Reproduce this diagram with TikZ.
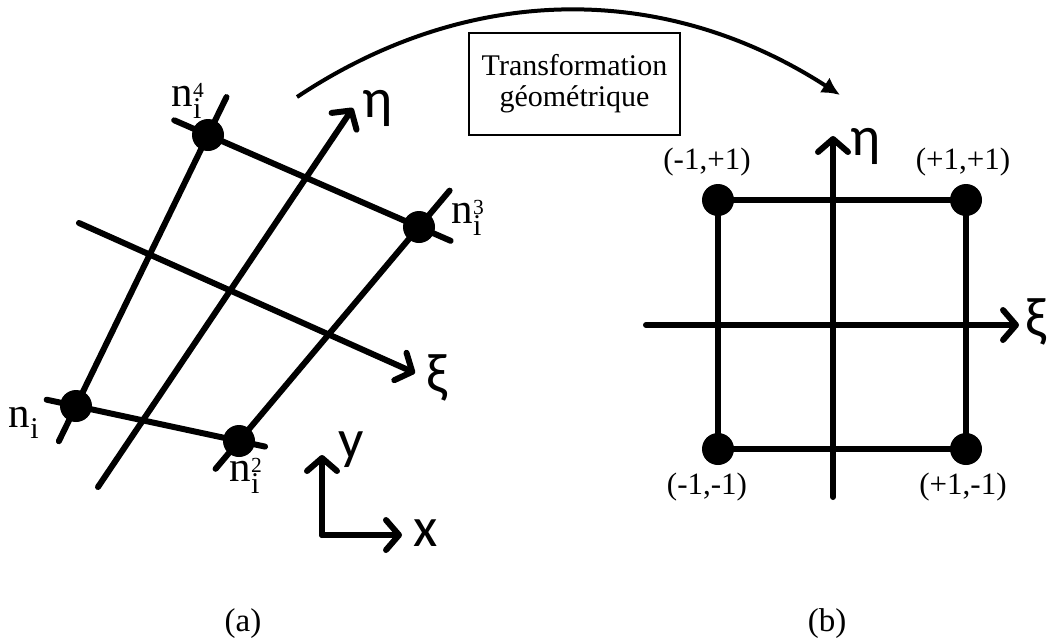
\documentclass[tikz,border=0pt]{standalone}
\usepackage{fontspec}
\setmainfont{Liberation Serif}
\newfontfamily\axisfont{Carlito}
\usetikzlibrary{arrows.meta,calc}
\newcommand{\nlab}[1]{$\mathrm{n}_{\mathrm{i}}^{\scriptscriptstyle\mathrm{#1}}$}
\begin{document}
\begin{tikzpicture}[x=1pt,y=-1pt,
  gridline/.style={line width=6pt, line cap=round},
  axisline/.style={gridline, -{Straight Barb[length=13pt,width=30pt,round]}},
  dot/.style={circle, fill=black, inner sep=0pt, minimum size=32pt},
  lbl/.style={font=\fontsize{31}{32}\selectfont, inner sep=0pt},
  caplbl/.style={font=\fontsize{33}{34}\selectfont, inner sep=0pt},
  nlbl/.style={font=\fontsize{43}{43}\selectfont, inner sep=0pt},
  axlbl/.style={font=\axisfont\fontsize{56}{56}\selectfont, inner sep=0pt},
  tbox/.style={draw, line width=1.5pt, fill=white, align=center,
    font=\fontsize{30}{31}\selectfont, minimum width=211pt, minimum height=102pt, inner sep=0pt},
  bigarc/.style={line width=4pt, -{Latex[length=18pt,width=18pt]}}
]
\useasboundingbox (0,0) rectangle (1048,643);

% ---------- (a) physical element ----------
\coordinate (A) at (76,406);
\coordinate (B) at (239,441);
\coordinate (C) at (419,227);
\coordinate (D) at (208,135);
\draw[gridline] ($(A)!-0.13!(D)$) -- ($(D)!-0.14!(A)$);
\draw[gridline] ($(D)!-0.16!(C)$) -- ($(C)!-0.15!(D)$);
\draw[gridline] ($(C)!-0.17!(B)$) -- ($(B)!-0.13!(C)$);
\draw[gridline] ($(A)!-0.18!(B)$) -- ($(B)!-0.16!(A)$);

\coordinate (etaS) at (98,487);
\coordinate (etaE) at (353,108);
\coordinate (xiS) at (79,223);
\coordinate (xiE) at (415,373);
\draw[axisline] (etaS) -- (etaE);
\draw[axisline] (xiS) -- (xiE);

\node[dot] (nA) at (A) {};
\node[dot] (nB) at (B) {};
\node[dot] (nC) at (C) {};
\node[dot] (nD) at (D) {};

\node[nlbl] (lA) at (24,423) {$\mathrm{n}_{\mathrm{i}}$};
\node[nlbl] (lB) at (246,476) {\nlab{2}};
\node[nlbl] (lC) at (468,218) {\nlab{3}};
\node[nlbl] (lD) at (188,101) {\nlab{4}};

\node[axlbl] (etaL) at (378,108) {η};
\node[axlbl] (xiL) at (437,378) {ξ};

% xy frame
\coordinate (O) at (322,535);
\coordinate (Y) at (322,455);
\coordinate (X) at (402,535);
\draw[axisline] (O) -- (Y);
\draw[axisline] (O) -- (X);
\node[axlbl] (yL) at (351,450) {y};
\node[axlbl] (xL) at (426,533) {x};

% ---------- transformation arrow ----------
\node[tbox] (tb) at (574.5,84) {Transformation\\géométrique};
\coordinate (arcS) at (297,97);
\coordinate (arcE) at (840,95);
\draw[bigarc] (arcS) .. controls (470,-18) and (665,-18) .. (arcE);

% ---------- (b) reference element ----------
\coordinate (E) at (718,449);
\coordinate (F) at (966,449);
\coordinate (G) at (966,200);
\coordinate (H) at (718,200);
\draw[gridline] (E) -- (F) -- (G) -- (H) -- cycle;
\coordinate (reS) at (833,497);
\coordinate (reE) at (833,136);
\coordinate (rxS) at (646,325);
\coordinate (rxE) at (1019,325);
\draw[axisline] (reS) -- (reE);
\draw[axisline] (rxS) -- (rxE);
\node[dot] (nE) at (E) {};
\node[dot] (nF) at (F) {};
\node[dot] (nG) at (G) {};
\node[dot] (nH) at (H) {};

\node[axlbl] (retaL) at (866,146) {η};
\node[axlbl] (rxiL) at (1036,322) {ξ};

\node[lbl] (lH) at (707,162) {(-1,+1)};
\node[lbl] (lG) at (963,162) {(+1,+1)};
\node[lbl] (lE) at (707,487) {(-1,-1)};
\node[lbl] (lF) at (963,487) {(+1,-1)};

% captions
\node[caplbl] (capA) at (243,624) {(a)};
\node[caplbl] (capB) at (827,624) {(b)};
\end{tikzpicture}
\end{document}
